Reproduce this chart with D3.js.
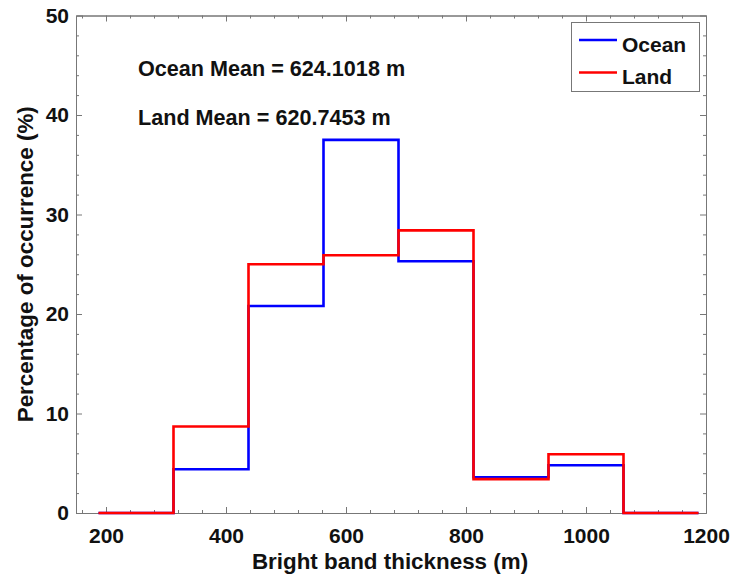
<!DOCTYPE html>
<html>
<head>
<meta charset="utf-8">
<script src="https://cdn.jsdelivr.net/npm/d3@7"></script>
<style>
  html, body { margin: 0; padding: 0; background: #fff; }
  svg text { font-family: "Liberation Sans", Arial, sans-serif; font-weight: bold; fill: #111; }
</style>
</head>
<body>
<svg id="chart" width="740" height="575"></svg>
<script>
// //////// DATA

// Histogram bin edges (m)
const binEdges = [187.5, 312.5, 437.5, 562.5, 687.5, 812.5, 937.5, 1062.5, 1187.5];
// Percentage of occurrence per bin
const oceanPct = [0, 4.4, 20.8, 37.5, 25.3, 3.6, 4.8, 0];
const landPct = [0, 8.7, 25.0, 25.9, 28.4, 3.4, 5.9, 0];

const xTicks = [200, 400, 600, 800, 1000, 1200];
const yTicks = [0, 10, 20, 30, 40, 50];

const seriesNames = ["Ocean", "Land"];
const seriesColors = ["#0000ff", "#ff0000"];
const meanLabels = ["Ocean Mean = 624.1018 m", "Land Mean = 620.7453 m"];

// //////// LAYOUT

const margin = { left: 76, top: 15.5, right: 34, bottom: 62 };
const width = 740, height = 575;

const svg = d3.select("#chart");

const x = d3.scaleLinear().domain([150, 1200]).range([margin.left, width - margin.right]);
const y = d3.scaleLinear().domain([0, 50]).range([height - margin.bottom, margin.top]);

const axisColor = "#777";
const fontSize = 21;
const fmt = d3.format("d");

// minor ticks every 40 m and every 2 %
const xMinor = d3.range(160, 1201, 40).filter((v) => !xTicks.includes(v));
const yMinor = d3.range(0, 51, 2).filter((v) => !yTicks.includes(v));

function styleAxis(g) {
  g.selectAll("path, line").attr("stroke", axisColor);
  g.selectAll("text").attr("font-size", fontSize).attr("fill", "#111")
    .attr("font-family", '"Liberation Sans", Arial, sans-serif').attr("font-weight", "bold");
}

// bottom
svg.append("g")
  .attr("transform", `translate(0,${y(0)})`)
  .call(d3.axisBottom(x).tickValues(xTicks).tickFormat(fmt).tickSize(-6).tickPadding(15).tickSizeOuter(0))
  .call(styleAxis);
svg.append("g")
  .attr("transform", `translate(0,${y(0)})`)
  .call(d3.axisBottom(x).tickValues(xMinor).tickSize(-3).tickFormat("").tickSizeOuter(0))
  .call(styleAxis);

// top
svg.append("g")
  .attr("transform", `translate(0,${y(50)})`)
  .call(d3.axisTop(x).tickValues(xTicks).tickSize(-6).tickFormat("").tickSizeOuter(0))
  .call(styleAxis);
svg.append("g")
  .attr("transform", `translate(0,${y(50)})`)
  .call(d3.axisTop(x).tickValues(xMinor).tickSize(-3).tickFormat("").tickSizeOuter(0))
  .call(styleAxis);

// left
svg.append("g")
  .attr("transform", `translate(${x(150)},0)`)
  .call(d3.axisLeft(y).tickValues(yTicks).tickFormat(fmt).tickSize(-6).tickPadding(7).tickSizeOuter(0))
  .call(styleAxis);
svg.append("g")
  .attr("transform", `translate(${x(150)},0)`)
  .call(d3.axisLeft(y).tickValues(yMinor).tickSize(-3).tickFormat("").tickSizeOuter(0))
  .call(styleAxis);

// right
svg.append("g")
  .attr("transform", `translate(${x(1200)},0)`)
  .call(d3.axisRight(y).tickValues(yTicks).tickSize(-6).tickFormat("").tickSizeOuter(0))
  .call(styleAxis);
svg.append("g")
  .attr("transform", `translate(${x(1200)},0)`)
  .call(d3.axisRight(y).tickValues(yMinor).tickSize(-3).tickFormat("").tickSizeOuter(0))
  .call(styleAxis);

// axis titles
svg.append("text")
  .attr("x", 390)
  .attr("y", 569)
  .attr("text-anchor", "middle")
  .attr("font-size", 22.4)
  .text("Bright band thickness (m)");

svg.append("text")
  .attr("transform", `translate(33,${(y(0) + y(50)) / 2}) rotate(-90)`)
  .attr("text-anchor", "middle")
  .attr("font-size", 22.4)
  .text("Percentage of occurrence (%)");

// //////// HISTOGRAM STEPS

const line = d3.line()
  .x((d) => x(d[0]))
  .y((d) => y(d[1]))
  .curve(d3.curveStepAfter);

function stepPoints(values) {
  const pts = values.map((v, i) => [binEdges[i], v]);
  pts.push([binEdges[binEdges.length - 1], values[values.length - 1]]);
  return pts;
}

[oceanPct, landPct].forEach((vals, i) => {
  svg.append("path")
    .attr("d", line(stepPoints(vals)))
    .attr("fill", "none")
    .attr("stroke", seriesColors[i])
    .attr("stroke-width", 2.6)
    .attr("stroke-linejoin", "miter");
});

// //////// ANNOTATIONS

meanLabels.forEach((t, i) => {
  svg.append("text")
    .attr("x", 138)
    .attr("y", 76 + i * 49)
    .attr("font-size", 21.6)
    .text(t);
});

// //////// LEGEND

const legend = svg.append("g");
legend.append("rect")
  .attr("x", 571.5).attr("y", 22.5)
  .attr("width", 128).attr("height", 69)
  .attr("fill", "#fff").attr("stroke", axisColor).attr("stroke-width", 1);

seriesNames.forEach((name, i) => {
  const ly = 40 + i * 32.5;
  legend.append("line")
    .attr("x1", 579).attr("x2", 617)
    .attr("y1", ly).attr("y2", ly)
    .attr("stroke", seriesColors[i]).attr("stroke-width", 2.6);
  legend.append("text")
    .attr("x", 622).attr("y", ly + 11.5)
    .attr("font-size", fontSize)
    .text(name);
});
</script>
</body>
</html>
